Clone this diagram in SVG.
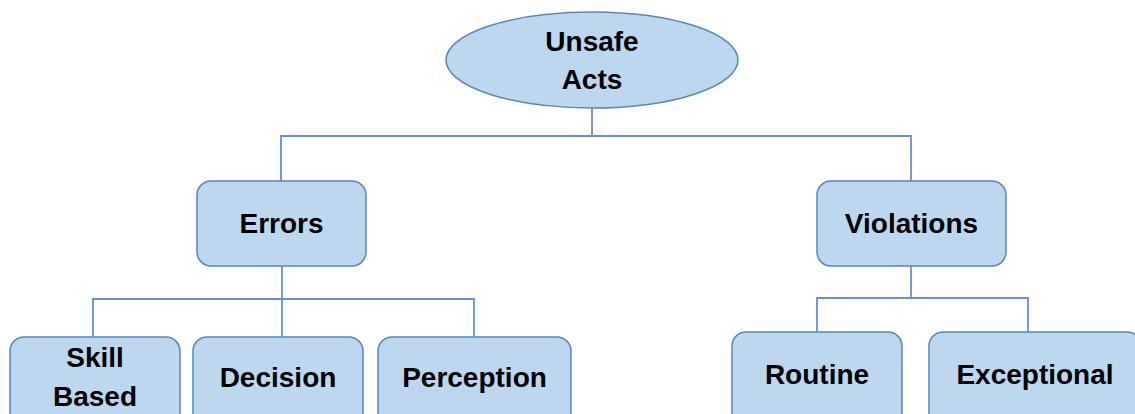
<svg xmlns="http://www.w3.org/2000/svg" width="1135" height="414" viewBox="0 0 1135 414">
<style>
.node{fill:#bdd7ee;stroke:#5b87b8;stroke-width:1.5}
.lbl{font-family:"Liberation Sans",Arial,sans-serif;font-weight:bold;font-size:28px;fill:#000;text-anchor:middle}
.conn{fill:none;stroke:#6a8fd6;stroke-width:1.8}
</style>
<rect width="1135" height="414" fill="#fff"/>
<g id="connectors">
<path class="conn" d="M592,108 V136 M281,181 V136 H911 V181"/>
<path class="conn" d="M282,266 V299 M93,337 V299 H474 V337 M282,299 V337"/>
<path class="conn" d="M911,266 V298 M817,332 V298 H1028 V332"/>
</g>
<g id="unsafe-acts">
<ellipse class="node" cx="592" cy="60" rx="146" ry="48"/>
<text class="lbl" x="592" y="51">Unsafe</text>
<text class="lbl" x="592" y="89">Acts</text>
</g>
<g id="errors">
<rect class="node" x="197" y="181" width="169" height="85" rx="14"/>
<text class="lbl" x="281.5" y="233">Errors</text>
</g>
<g id="violations">
<rect class="node" x="817" y="181" width="189" height="85" rx="14"/>
<text class="lbl" x="911.5" y="233">Violations</text>
</g>
<g id="skill-based">
<rect class="node" x="10" y="337" width="170" height="95" rx="14"/>
<text class="lbl" x="95" y="367">Skill</text>
<text class="lbl" x="95" y="406">Based</text>
</g>
<g id="decision">
<rect class="node" x="193" y="337" width="170" height="95" rx="14"/>
<text class="lbl" x="278" y="387">Decision</text>
</g>
<g id="perception">
<rect class="node" x="378" y="337" width="193" height="95" rx="14"/>
<text class="lbl" x="474.5" y="387">Perception</text>
</g>
<g id="routine">
<rect class="node" x="732" y="332" width="170" height="100" rx="14"/>
<text class="lbl" x="817" y="384">Routine</text>
</g>
<g id="exceptional">
<rect class="node" x="929" y="332" width="212" height="100" rx="14"/>
<text class="lbl" x="1035" y="384">Exceptional</text>
</g>
</svg>
